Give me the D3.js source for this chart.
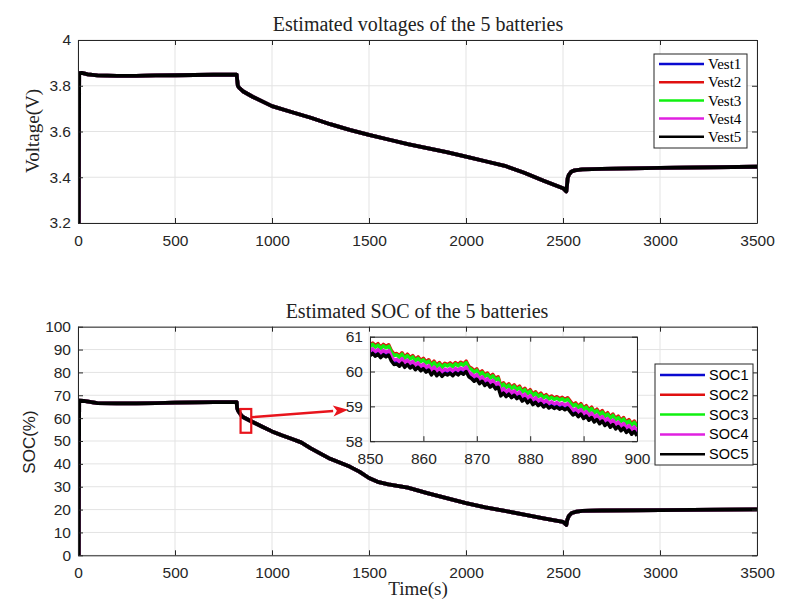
<!DOCTYPE html>
<html><head><meta charset="utf-8">
<script src="https://cdn.jsdelivr.net/npm/d3@7"></script>
<style>body{margin:0;background:#fff}</style>
</head><body>
<svg id="c" width="808" height="608"></svg>
<script>
// ---------- data ----------
const seriesNamesV = ["Vest1","Vest2","Vest3","Vest4","Vest5"];
const seriesNamesS = ["SOC1","SOC2","SOC3","SOC4","SOC5"];
const seriesColors = ["#0a0ad0","#e01010","#10f010","#e020e0","#000000"];

const voltTime = [0,4,6,20,50,100,200,300,400,500,600,700,800,818,820,824,830,840,850,900,1000,1100,1200,1300,1400,1500,1600,1700,1800,1900,2000,2100,2200,2300,2400,2500,2517,2520,2524,2530,2542,2560,2600,2700,3000,3500];
const voltage  = [3.2,3.2,3.855,3.856,3.85,3.845,3.843,3.843,3.845,3.846,3.847,3.848,3.848,3.848,3.83,3.80,3.792,3.784,3.776,3.752,3.711,3.685,3.66,3.632,3.607,3.585,3.565,3.545,3.527,3.51,3.49,3.47,3.45,3.42,3.385,3.352,3.338,3.36,3.395,3.41,3.424,3.43,3.434,3.437,3.441,3.446];

const socTime = [0,4,6,30,100,200,300,400,500,600,700,818,820,825,840,850,900,950,1000,1050,1100,1150,1200,1250,1300,1400,1450,1500,1550,1600,1700,1800,1900,2000,2100,2200,2300,2400,2500,2517,2522,2530,2545,2570,2600,2700,3000,3500];
const soc     = [0,0,67.6,67.5,66.6,66.5,66.5,66.6,66.8,66.9,67.0,67.0,64.5,63.3,61.4,60.5,58.3,56.2,54.2,52.5,51.0,49.4,46.8,44.5,42.2,38.8,36.6,33.8,32.0,31.0,29.6,27.2,25.0,22.8,21.0,19.4,17.8,16.2,14.6,13.3,15.5,17.2,18.5,19.1,19.4,19.6,19.8,20.1];

const insetTime = d3.range(850, 900.25, 0.5);
const insetSoc5 = [60.45,60.52,60.44,60.5,60.4,60.48,60.42,60.47,60.3,60.2,60.22,60.15,60.24,60.12,60.2,60.1,60.16,60.05,60.12,60.02,
  60.08,59.98,60.04,59.9,60.0,59.88,59.96,59.86,59.94,59.9,59.95,59.88,59.96,59.9,59.97,59.92,60.0,59.85,59.8,59.72,
  59.78,59.65,59.72,59.6,59.66,59.55,59.62,59.5,59.55,59.3,59.38,59.28,59.35,59.25,59.32,59.22,59.28,59.15,59.22,59.1,
  59.18,59.05,59.12,59.02,59.08,58.98,59.04,58.95,59.0,58.94,58.98,58.92,58.96,58.9,58.95,58.85,58.75,58.8,58.7,58.78,
  58.65,58.72,58.6,58.68,58.55,58.62,58.5,58.58,58.45,58.52,58.4,58.48,58.35,58.42,58.3,58.38,58.25,58.32,58.2,58.28,58.15];
const insetOffsets = [0.08,0.3,0.26,0.13,0];

const xTicks = [0,500,1000,1500,2000,2500,3000,3500];
const voltTicks = [3.2,3.4,3.6,3.8,4];
const voltTickLabels = ["3.2","3.4","3.6","3.8","4"];
const socTicks = [0,10,20,30,40,50,60,70,80,90,100];
const insetXTicks = [850,860,870,880,890,900];
const insetYTicks = [58,59,60,61];

const zoomBox = {t0:838, t1:893, s0:53.6, s1:64};
const arrowFrom = {t:893, s:60.4};      // main-axes coordinates
const arrowTo = {t:845.9, s:58.9};      // inset-axes coordinates

// ---------- drawing ----------
const svg = d3.select("#c");
svg.append("rect").attr("width",808).attr("height",608).attr("fill","#fff");
const AX = "#262626", GRID = "#e3e3e3";
const SANS = "'Liberation Sans', Arial, sans-serif";
const SERIF = "'Liberation Serif', 'Times New Roman', serif";

function panel(box, xd, yd, xt, yt, yfmt, id){
  const x = d3.scaleLinear().domain(xd).range([box.l, box.r]);
  const y = d3.scaleLinear().domain(yd).range([box.b, box.t]);
  const g = svg.append("g");
  g.append("rect").attr("x",box.l).attr("y",box.t).attr("width",box.r-box.l).attr("height",box.b-box.t).attr("fill","#fff");
  g.append("clipPath").attr("id",id).append("rect")
    .attr("x",box.l).attr("y",box.t).attr("width",box.r-box.l).attr("height",box.b-box.t);
  g.selectAll(".gx").data(xt).join("line").attr("x1",d=>x(d)).attr("x2",d=>x(d))
    .attr("y1",box.t).attr("y2",box.b).attr("stroke",GRID).attr("stroke-width",1);
  g.selectAll(".gy").data(yt).join("line").attr("y1",d=>y(d)).attr("y2",d=>y(d))
    .attr("x1",box.l).attr("x2",box.r).attr("stroke",GRID).attr("stroke-width",1);
  const style = sel => {
    sel.attr("font-family",SANS).attr("font-size",15.5);
    sel.selectAll("path,line").attr("stroke",AX);
    sel.selectAll("text").attr("fill",AX);
  };
  const lines = g.append("g").attr("clip-path",`url(#${id})`);
  const gb = g.append("g").attr("transform",`translate(0,${box.b})`)
    .call(d3.axisBottom(x).tickValues(xt).tickSizeInner(-5).tickSizeOuter(0).tickPadding(12).tickFormat(d3.format("d")));
  const gl = g.append("g").attr("transform",`translate(${box.l},0)`)
    .call(d3.axisLeft(y).tickValues(yt).tickSizeInner(-5).tickSizeOuter(0).tickPadding(7).tickFormat(yfmt));
  const gt = g.append("g").attr("transform",`translate(0,${box.t})`)
    .call(d3.axisTop(x).tickValues(xt).tickSizeInner(-5).tickSizeOuter(0).tickFormat(""));
  const gr = g.append("g").attr("transform",`translate(${box.r},0)`)
    .call(d3.axisRight(y).tickValues(yt).tickSizeInner(-5).tickSizeOuter(0).tickFormat(""));
  [gb,gl,gt,gr].forEach(style);
  return {x,y,g,lines};
}

function drawSeries(p, t, vals, offsets, width){
  seriesColors.forEach((c,i)=>{
    const line = d3.line().x((d,k)=>p.x(t[k])).y(d=>p.y(d + offsets[i]));
    p.lines.append("path").datum(vals).attr("d",line).attr("fill","none")
      .attr("stroke",c).attr("stroke-width",width).attr("stroke-linejoin","round");
  });
}

function legend(x0,y0,w,h,names,rowY,font,size){
  const g = svg.append("g");
  g.append("rect").attr("x",x0).attr("y",y0).attr("width",w).attr("height",h)
    .attr("fill","#fff").attr("stroke",AX).attr("stroke-width",1);
  names.forEach((n,i)=>{
    g.append("line").attr("x1",x0+5).attr("x2",x0+50).attr("y1",rowY[i]).attr("y2",rowY[i])
      .attr("stroke",seriesColors[i]).attr("stroke-width",2.5);
    g.append("text").attr("x",x0+54).attr("y",rowY[i]).attr("dy","0.35em")
      .attr("font-family",font).attr("font-size",size).attr("fill","#000").text(n);
  });
}

// top panel
const pv = panel({l:78,r:757,t:40,b:223},[0,3500],[3.2,4],xTicks,voltTicks,(d,i)=>voltTickLabels[i],"cv");
drawSeries(pv, voltTime, voltage, [0,0,0,0,0], 3.8);
svg.append("text").attr("x",418).attr("y",31).attr("text-anchor","middle")
  .attr("font-family",SERIF).attr("font-size",20).attr("fill","#222").text("Estimated voltages of the 5 batteries");
svg.append("text").attr("transform","translate(39,131) rotate(-90)").attr("text-anchor","middle")
  .attr("font-family",SERIF).attr("font-size",19).attr("fill","#222").text("Voltage(V)");
legend(654,54,93,94,seriesNamesV,[64,82.2,100.4,118.6,136.8],SERIF,15);

// bottom panel
const ps = panel({l:78,r:757,t:326.7,b:555.3},[0,3500],[0,100],xTicks,socTicks,d3.format("d"),"cs");
drawSeries(ps, socTime, soc, [0,0,0,0,0], 3.8);
svg.append("text").attr("x",417).attr("y",318).attr("text-anchor","middle")
  .attr("font-family",SERIF).attr("font-size",20).attr("fill","#222").text("Estimated SOC of the 5 batteries");
svg.append("text").attr("transform","translate(35,442) rotate(-90)").attr("text-anchor","middle")
  .attr("font-family",SANS).attr("font-size",17).attr("fill","#222").text("SOC(%)");
svg.append("text").attr("x",418).attr("y",595).attr("text-anchor","middle")
  .attr("font-family",SERIF).attr("font-size",19).attr("fill","#222").text("Time(s)");

// zoom box
svg.append("rect").attr("x",ps.x(zoomBox.t0)).attr("y",ps.y(zoomBox.s1))
  .attr("width",ps.x(zoomBox.t1)-ps.x(zoomBox.t0)).attr("height",ps.y(zoomBox.s0)-ps.y(zoomBox.s1))
  .attr("fill","none").attr("stroke","#e8141c").attr("stroke-width",2.2);

// inset
const pi = panel({l:370,r:637,t:336.7,b:441.2},[850,900],[58,61],insetXTicks,insetYTicks,d3.format("d"),"ci");
drawSeries(pi, insetTime, insetSoc5, insetOffsets, 3.4);

// arrow
{
  const x1 = ps.x(arrowFrom.t), y1 = ps.y(arrowFrom.s);
  const x2 = pi.x(arrowTo.t), y2 = pi.y(arrowTo.s);
  const ang = Math.atan2(y2-y1, x2-x1), L = 15, Wd = 5.5;
  const bx = x2 - L*Math.cos(ang), by = y2 - L*Math.sin(ang);
  svg.append("line").attr("x1",x1).attr("y1",y1).attr("x2",bx).attr("y2",by)
    .attr("stroke","#e8141c").attr("stroke-width",2.4);
  const px = -Math.sin(ang)*Wd, py = Math.cos(ang)*Wd;
  svg.append("path").attr("d",`M${x2},${y2}L${bx+px},${by+py}L${bx+L*0.25*Math.cos(ang)},${by+L*0.25*Math.sin(ang)}L${bx-px},${by-py}Z`)
    .attr("fill","#e8141c");
}

legend(655,364,98,101,seriesNamesS,[375,394.8,414.6,434.4,454.2],SANS,14.5);
</script>
</body></html>
